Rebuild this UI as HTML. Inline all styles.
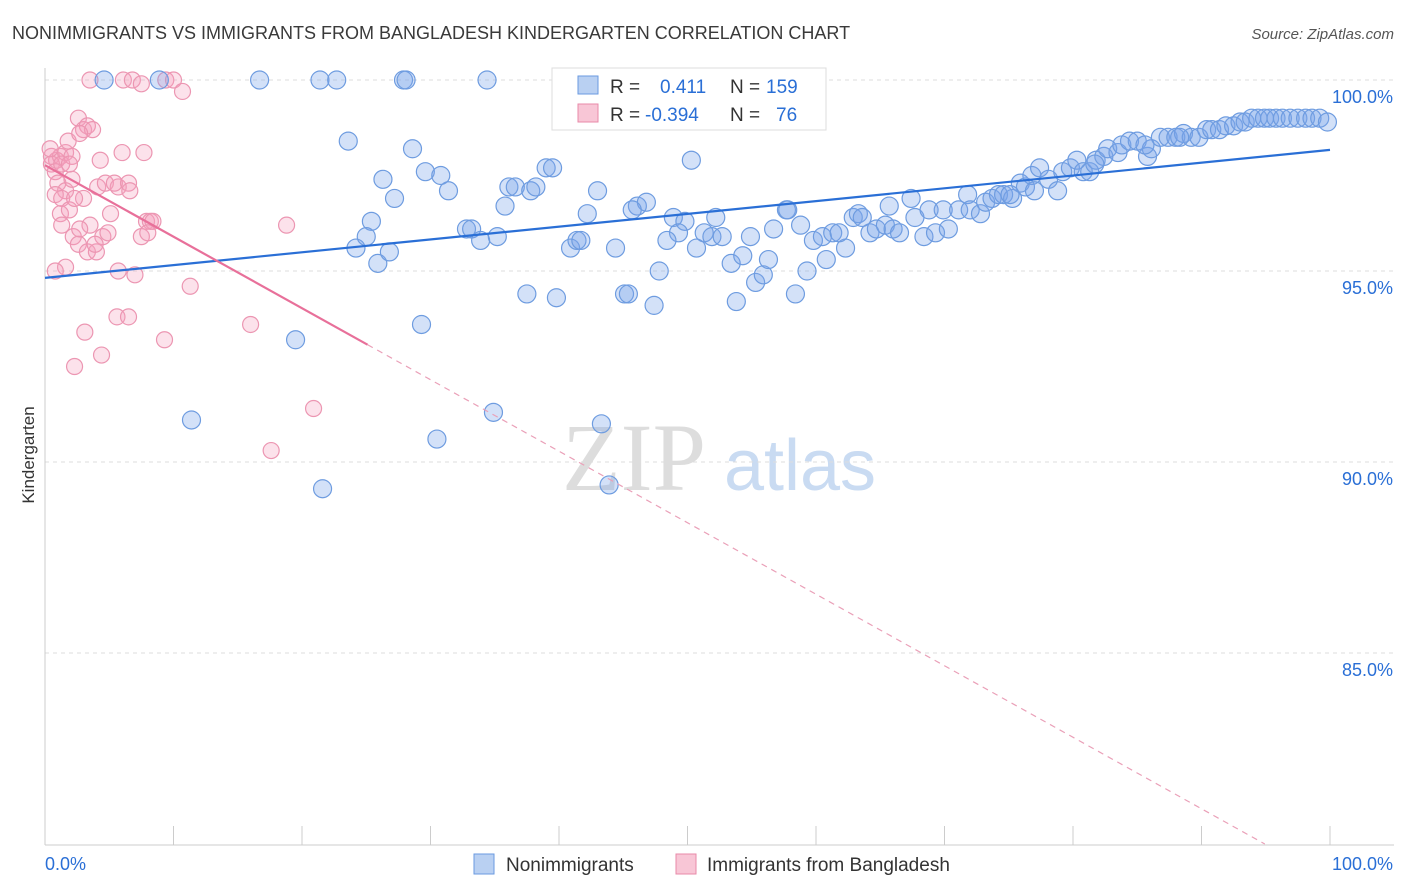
<!DOCTYPE html>
<html><head><meta charset="utf-8">
<style>
body{margin:0;background:#fff;font-family:"Liberation Sans",sans-serif;}
#wrap{position:relative;width:1406px;height:892px;overflow:hidden;}
</style></head>
<body>
<div id="wrap">
<svg id="chart" width="1406" height="892" xmlns="http://www.w3.org/2000/svg">
<text x="12" y="39" font-size="18" fill="#3a3a3a">NONIMMIGRANTS VS IMMIGRANTS FROM BANGLADESH KINDERGARTEN CORRELATION CHART</text>
<text x="1394" y="39" font-size="15" fill="#555" font-style="italic" text-anchor="end">Source: ZipAtlas.com</text>
<text x="634" y="490" font-size="96" fill="#ddd" font-family="Liberation Serif,serif" text-anchor="middle">ZIP</text>
<text x="800" y="490" font-size="72" fill="#c9dbf2" text-anchor="middle">atlas</text>
<g id="grid"></g>
<g id="axes"></g>
<g id="pts"></g>
<g id="lines"></g>
<text x="34" y="455" font-size="17" fill="#333" text-anchor="middle" transform="rotate(-90 34 455)">Kindergarten</text>
<g>
<rect x="552" y="68" width="274" height="62" fill="#fff" stroke="#ddd"/>
<rect x="578" y="76" width="20" height="18" fill="#b9d0f2" stroke="#6a9ae0"/>
<rect x="578" y="104" width="20" height="18" fill="#f8c6d6" stroke="#e88aa8"/>
<text x="610" y="93" font-size="19" fill="#333">R =</text>
<text x="660" y="93" font-size="19" fill="#2a6fd6">0.411</text>
<text x="730" y="93" font-size="19" fill="#333">N =</text>
<text x="766" y="93" font-size="19" fill="#2a6fd6">159</text>
<text x="610" y="121" font-size="19" fill="#333">R =</text>
<text x="645" y="121" font-size="19" fill="#2a6fd6">-0.394</text>
<text x="730" y="121" font-size="19" fill="#333">N =</text>
<text x="776" y="121" font-size="19" fill="#2a6fd6">76</text>
</g>
<g>
<rect x="474" y="854" width="20" height="20" fill="#b9d0f2" stroke="#6a9ae0"/>
<text x="506" y="871" font-size="19" fill="#333">Nonimmigrants</text>
<rect x="676" y="854" width="20" height="20" fill="#f8c6d6" stroke="#e88aa8"/>
<text x="707" y="871" font-size="19" fill="#333">Immigrants from Bangladesh</text>
</g>
</svg>
</div>
<script>
const yTicks=[100,95,90,85];
const yTickLabels=["100.0%","95.0%","90.0%","85.0%"];
const xTickVals=[0,10,20,30,40,50,60,70,80,90,100];
const blueX=[4.6,8.9,16.7,21.4,22.7,27.9,28.1,34.4,23.6,28.6,26.3,27.2,29.6,30.8,31.4,25.4,24.2,25.0,25.9,26.8,32.8,33.2,33.9,35.2,35.8,36.1,36.6,37.8,38.2,39.0,39.5,43.0,42.2,40.9,41.4,41.7,44.4,46.1,46.8,45.7,48.9,49.8,49.3,48.4,50.7,51.3,51.9,52.2,52.7,50.3,47.8,53.4,54.9,55.3,55.9,56.3,54.3,56.7,57.7,57.8,58.8,59.3,59.8,60.5,60.8,61.3,62.3,61.8,62.9,63.3,63.6,64.2,64.7,65.4,65.7,66.0,66.5,67.4,67.7,68.4,68.8,69.3,69.9,70.3,71.1,71.8,72.0,72.8,73.2,73.7,74.2,74.6,75.3,75.9,76.3,76.8,77.4,78.1,78.8,79.2,79.8,80.3,80.8,81.3,81.8,82.4,82.7,83.5,83.8,84.4,85.0,85.8,86.1,86.8,87.4,88.0,88.6,89.2,89.8,90.4,90.8,91.4,91.9,92.5,93.0,93.4,93.9,94.4,94.9,95.3,95.8,96.3,96.9,97.5,98.1,98.6,99.2,99.8,37.5,39.8,45.1,45.4,47.4,53.8,58.4,19.5,29.3,11.4,34.9,30.5,43.3,21.6,43.9,75.1,77.0,81.7,85.6,88.3];
const blueY=[100,100,100,100,100,100,100,100,98.4,98.2,97.4,96.9,97.6,97.5,97.1,96.3,95.6,95.9,95.2,95.5,96.1,96.1,95.8,95.9,96.7,97.2,97.2,97.1,97.2,97.7,97.7,97.1,96.5,95.6,95.8,95.8,95.6,96.7,96.8,96.6,96.4,96.3,96.0,95.8,95.6,96.0,95.9,96.4,95.9,97.9,95.0,95.2,95.9,94.7,94.9,95.3,95.4,96.1,96.6,96.6,96.2,95.0,95.8,95.9,95.3,96.0,95.6,96.0,96.4,96.5,96.4,96.0,96.1,96.2,96.7,96.1,96.0,96.9,96.4,95.9,96.6,96.0,96.6,96.1,96.6,97.0,96.6,96.5,96.8,96.9,97.0,97.0,96.9,97.3,97.2,97.5,97.7,97.4,97.1,97.6,97.7,97.9,97.6,97.6,97.9,98.0,98.2,98.1,98.3,98.4,98.4,98.0,98.2,98.5,98.5,98.5,98.6,98.5,98.5,98.7,98.7,98.7,98.8,98.8,98.9,98.9,99.0,99.0,99.0,99.0,99.0,99.0,99.0,99.0,99.0,99.0,99.0,98.9,94.4,94.3,94.4,94.4,94.1,94.2,94.4,93.2,93.6,91.1,91.3,90.6,91.0,89.3,89.4,97.0,97.1,97.8,98.3,98.5];
const pinkX=[3.5,6.1,6.8,7.5,9.4,10.0,10.7,0.5,0.9,1.2,1.6,0.5,0.8,1.3,2.1,1.8,2.6,3.0,3.3,3.7,2.7,1.0,1.6,2.1,0.8,1.3,1.2,1.9,2.2,2.6,1.6,3.3,4.0,3.5,4.5,4.9,3.0,4.3,4.1,4.7,5.7,5.4,6.5,6.6,6.0,7.7,7.5,7.9,8.2,8.4,8.0,5.7,7.0,5.6,6.5,4.4,2.3,3.1,9.3,11.3,16.0,18.8,20.9,17.6,0.8,2.7,3.9,1.3,2.3,5.1,0.4,1.9];
const pinkY=[100,100,100,99.9,100,100,99.7,98.0,97.9,98.0,98.1,97.8,97.6,97.8,98.0,98.4,99.0,98.7,98.8,98.7,98.6,97.3,97.1,97.4,97.0,96.9,96.5,96.6,95.9,95.7,95.1,95.5,95.5,96.2,95.9,96.0,96.9,97.9,97.2,97.3,97.2,97.3,97.3,97.1,98.1,98.1,95.9,96.3,96.3,96.3,96.0,95.0,94.9,93.8,93.8,92.8,92.5,93.4,93.2,94.6,93.6,96.2,91.4,90.3,95.0,96.1,95.7,96.2,96.9,96.5,98.2,97.8];
const blueTrend=[94.82,98.17];
const pinkTrend=[97.77,-0.1872];
const pinkSolidEnd=25.1;

const NS="http://www.w3.org/2000/svg";
const X0=45,X1=1330,Y100=80,PXPER=38.2;
function sx(v){return X0+(X1-X0)*v/100;}
function sy(v){return Y100+(100-v)*PXPER;}
function mk(tag,attrs,parent){const e=document.createElementNS(NS,tag);for(const k in attrs)e.setAttribute(k,attrs[k]);parent.appendChild(e);return e;}
const grid=document.getElementById('grid'),axes=document.getElementById('axes'),pts=document.getElementById('pts'),lines=document.getElementById('lines');
yTicks.forEach((t,i)=>{
  const l=mk('line',{x1:X0,x2:1394,y1:sy(t),y2:sy(t),stroke:'#ddd','stroke-dasharray':'4,4'},grid);
  
  
  const tx=mk('text',{x:1393,y:sy(t)+23,'font-size':18,fill:'#2a6fd6','text-anchor':'end'},axes);
  tx.textContent=yTickLabels[i];
  
  
});
const ya=mk('line',{x1:X0,x2:X0,y1:68,y2:845,stroke:'#ccc'},axes);


const xa=mk('line',{x1:X0,x2:1394,y1:845,y2:845,stroke:'#ccc'},axes);


xTickVals.forEach(v=>{
  const t=mk('line',{x1:sx(v),x2:sx(v),y1:826,y2:845,stroke:'#ccc'},axes);
  
  
});
const xl0=mk('text',{x:45,y:870,'font-size':18,fill:'#2a6fd6'},axes);xl0.textContent='0.0%';


const xl1=mk('text',{x:1393,y:870,'font-size':18,fill:'#2a6fd6','text-anchor':'end'},axes);xl1.textContent='100.0%';


pinkX.forEach((x,i)=>{
  const c=mk('circle',{cx:sx(x),cy:sy(pinkY[i]),r:8,fill:'rgba(244,160,188,0.3)',stroke:'#ec96b2','stroke-width':1.2},pts);
  
  
});
blueX.forEach((x,i)=>{
  const c=mk('circle',{cx:sx(x),cy:sy(blueY[i]),r:9,fill:'rgba(120,165,235,0.33)',stroke:'#6e9ce0','stroke-width':1.2},pts);
  
  
});
const bl=mk('line',{x1:sx(0),y1:sy(blueTrend[0]),x2:sx(100),y2:sy(blueTrend[1]),stroke:'#2a6fd6','stroke-width':2.2},lines);


const pEnd=(80-pinkTrend[0])/pinkTrend[1];
const pl=mk('line',{x1:sx(0),y1:sy(pinkTrend[0]),x2:sx(pinkSolidEnd),y2:sy(pinkTrend[0]+pinkTrend[1]*pinkSolidEnd),stroke:'#e8709a','stroke-width':2.2},lines);


const pd=mk('line',{x1:sx(pinkSolidEnd),y1:sy(pinkTrend[0]+pinkTrend[1]*pinkSolidEnd),x2:sx(pEnd),y2:sy(80),stroke:'#eaa0b8','stroke-width':1.2,'stroke-dasharray':'6,5'},lines);


</script>
</body></html>
